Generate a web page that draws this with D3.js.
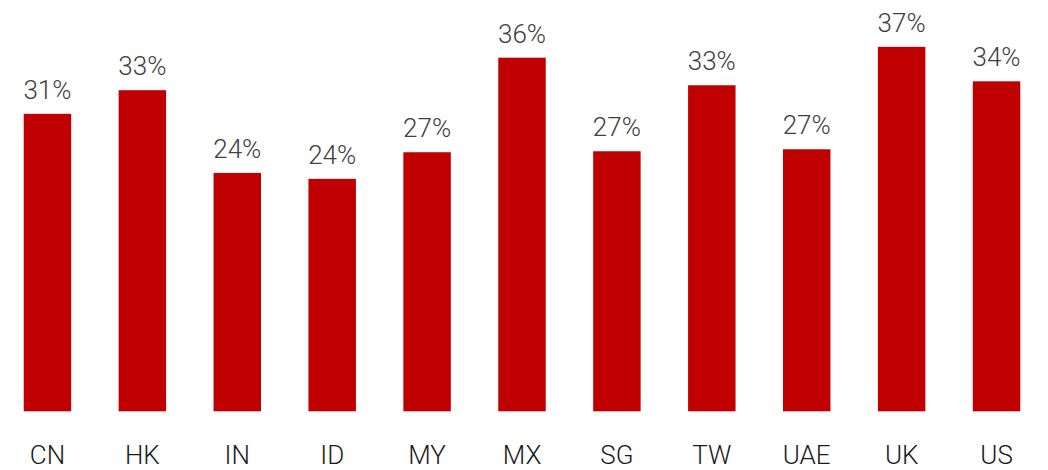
<!DOCTYPE html>
<html>
<head>
<meta charset="utf-8">
<script src="https://cdn.jsdelivr.net/npm/d3@7"></script>
<style>
  body { margin: 0; background: #fff; }
  svg text { font-family: Roboto, "Liberation Sans", sans-serif; font-weight: 300; }
</style>
</head>
<body>
<svg id="chart" width="1048" height="470"></svg>
<script>
// countries on the x axis
const categories = ["CN", "HK", "IN", "ID", "MY", "MX", "SG", "TW", "UAE", "UK", "US"];
// bar values (%)
const values = [30.2, 32.6, 24.2, 23.6, 26.3, 35.9, 26.4, 33.1, 26.6, 37.0, 33.5];
// labels printed above each bar
const labels = ["31%", "33%", "24%", "24%", "27%", "36%", "27%", "33%", "27%", "37%", "34%"];

const svg = d3.select("#chart");
const baseY = 411.3;

const x = d3.scaleBand()
  .domain(categories)
  .range([0, 1044])
  .paddingInner(0.5)
  .paddingOuter(0.25);

const y = d3.scaleLinear()
  .domain([0, 40])
  .range([baseY, baseY - 394]);

const rows = categories.map((c, i) => ({ cat: c, value: values[i], label: labels[i] }));

svg.append("g")
  .selectAll("rect")
  .data(rows)
  .enter()
  .append("rect")
  .attr("x", (d) => x(d.cat))
  .attr("width", x.bandwidth())
  .attr("y", (d) => y(d.value))
  .attr("height", (d) => baseY - y(d.value))
  .attr("fill", "#c00000");

svg.append("g")
  .selectAll("text")
  .data(rows)
  .enter()
  .append("text")
  .attr("x", (d) => x(d.cat) + x.bandwidth() / 2)
  .attr("y", (d) => y(d.value) - 15)
  .attr("text-anchor", "middle")
  .attr("font-size", 26)
  .attr("fill", "#404040")
  .text((d) => d.label);

const xAxis = svg.append("g")
  .attr("transform", `translate(0,${baseY})`)
  .call(d3.axisBottom(x).tickSize(0).tickPadding(0));
xAxis.select(".domain").remove();
xAxis.selectAll("text")
  .attr("dy", null)
  .attr("y", 53)
  .attr("font-size", 26)
  .attr("font-family", null)
  .attr("fill", "#1a1a1a");
</script>
</body>
</html>
